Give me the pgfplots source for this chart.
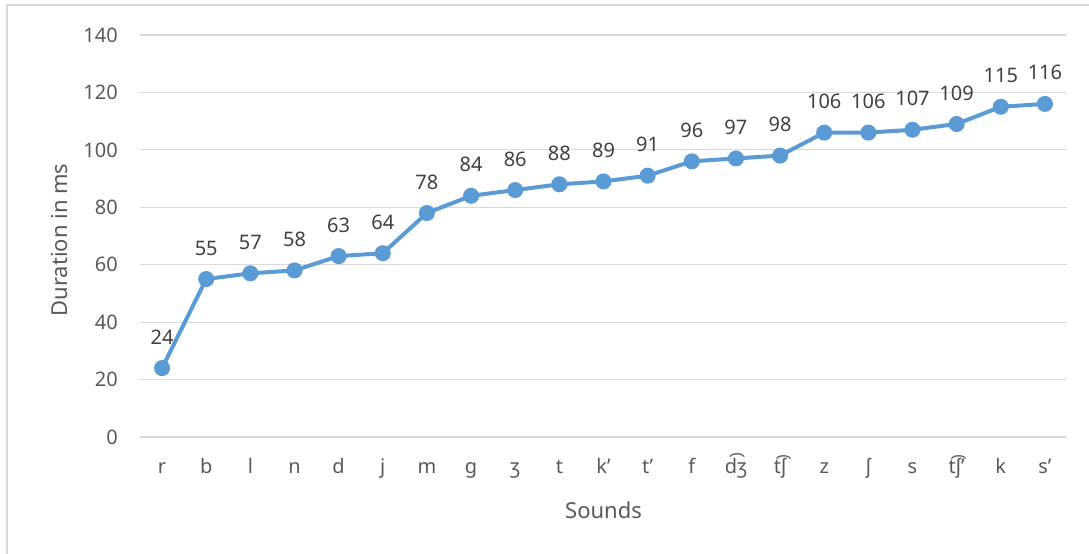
\documentclass[border=0pt]{standalone}
\usepackage{fontspec}
\setmainfont{Noto Sans}
\usepackage{pgfplots}
\pgfplotsset{compat=1.18}

\definecolor{linebl}{HTML}{5B9BD5}
\definecolor{gridc}{HTML}{D9D9D9}
\definecolor{labc}{HTML}{595959}
\definecolor{datac}{HTML}{404040}

\begin{document}
\begin{tikzpicture}
\path[use as bounding box] (0,0) rectangle (1089bp,554bp);
\draw[gridc, line width=1.5bp] (7bp,0) -- (7bp,549bp) -- (1089bp,549bp);
\begin{axis}[
  at={(140bp,117bp)}, anchor=south west,
  scale only axis, width=927bp, height=402bp,
  xmin=-0.5, xmax=20.5, ymin=0, ymax=140,
  ytick={0,20,...,140},
  xtick={0,...,20},
  xticklabels={r,b,l,n,d,j,m,g,ʒ,t,k',t',f,d͡ʒ,t͡ʃ,z,ʃ,s,t͡ʃ',k,s'},
  axis line style={draw=none},
  major tick length=0pt,
  ymajorgrids, grid style={gridc, line width=1.2bp},
  font=\fontsize{20bp}{24bp}\selectfont,
  /pgf/number format/assume math mode=true,
  tick label style={text=labc, inner sep=0pt},
  yticklabel style={anchor=east, xshift=-22bp},
  xticklabel style={anchor=base, yshift=-37bp},
  xlabel={Sounds}, ylabel={Duration in ms},
  every axis x label/.style={at={(axis description cs:0.5,0)}, anchor=base, yshift=-81bp, text=labc, font=\fontsize{22bp}{26bp}\selectfont},
  every axis y label/.style={at={(axis description cs:0,0.5)}, xshift=-72bp, yshift=-4bp, rotate=90, anchor=base, text=labc, font=\fontsize{22bp}{26bp}\selectfont},
  nodes near coords,
  every node near coord/.append style={anchor=base, yshift=24bp, inner sep=0pt, text=datac},
  clip=false,
]
\addplot[color=linebl, line width=4bp, mark=*, mark size=6bp, mark options={fill=linebl, draw=linebl}]
  coordinates {
  (0,24) (1,55) (2,57) (3,58) (4,63) (5,64) (6,78) (7,84) (8,86) (9,88)
  (10,89) (11,91) (12,96) (13,97) (14,98) (15,106) (16,106) (17,107) (18,109) (19,115) (20,116)
  };
\end{axis}
\end{tikzpicture}
\end{document}
